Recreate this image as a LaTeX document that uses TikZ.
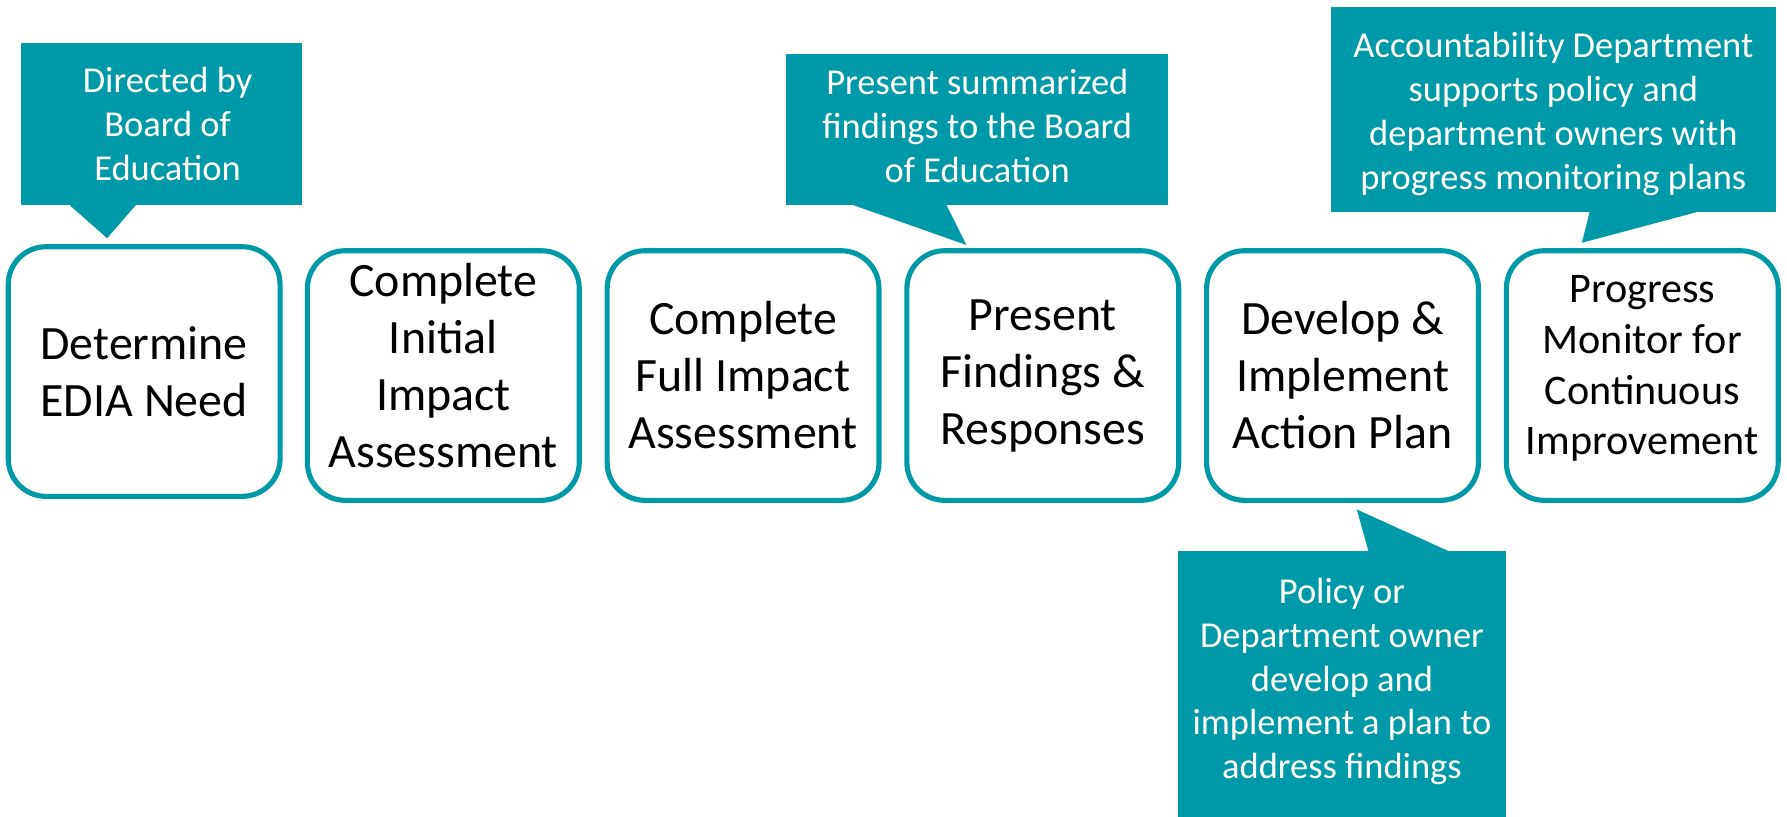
\documentclass[tikz,border=0pt]{standalone}
\usepackage{fontspec}
\setmainfont{Carlito}
\definecolor{teal}{RGB}{0,153,168}
\newcommand{\liftlines}[2]{\raisebox{#1}[\height][\depth]{\begin{tabular}{@{}c@{}}#2\end{tabular}}}
\tikzset{
  stepbox/.style={draw=teal, line width=4.5pt, fill=white, rounded corners=33pt,
    minimum width=238.5pt, minimum height=219pt, inner sep=0pt, align=center,
    font=\fontsize{42pt}{50pt}\selectfont},
  calloutbox/.style={fill=teal, inner sep=0pt},
  callouttext/.style={text=white, align=center, inner sep=0pt,
    font=\fontsize{32pt}{38.5pt}\selectfont},
}
\begin{document}
\begin{tikzpicture}[x=1pt,y=-1pt]
\useasboundingbox (0,0) rectangle (1568,716);
% steps
\node[stepbox] (b1) at (126.5,326) {Determine\\EDIA Need};
\node[stepbox] (b2) at (389,329.5) {\liftlines{4pt}{Complete\\Initial\\Impact\\Assessment}};
\node[stepbox] (b3) at (652,329.5) {Complete\\Full Impact\\Assessment};
\node[stepbox] (b4) at (915,329.5) {Present\\Findings \&\\Responses};
\node[stepbox] (b5) at (1178,329.5) {Develop \&\\Implement\\Action Plan};
\node[stepbox, font=\fontsize{37pt}{44.5pt}\selectfont] (b6) at (1441,329.5) {\liftlines{6pt}{Progress\\Monitor for\\Continuous\\Improvement}};
% callout 1
\node[calloutbox, minimum width=247pt, minimum height=142pt] (c1) at (141.5,109) {};
\coordinate (t1) at (94,209);
\fill[teal] (60,179) -- (t1) -- (120,179) -- cycle;
\node[callouttext] (c1t) at (147,109) {Directed by\\Board of\\Education};
% callout 4
\node[calloutbox, minimum width=335pt, minimum height=133pt] (c4) at (857.5,113.5) {};
\coordinate (t4) at (848,215);
\fill[teal] (746,179) -- (t4) -- (830,179) -- cycle;
\node[callouttext] (c4t) at (857.5,110.5) {Present summarized\\findings to the Board\\of Education};
% callout 6
\node[calloutbox, minimum width=390pt, minimum height=180pt] (c6) at (1363,96) {};
\coordinate (t6) at (1388,213);
\fill[teal] (1395,185) -- (t6) -- (1493,185) -- cycle;
\node[callouttext] (c6t) at (1363,100) {Accountability Department\\supports policy and\\department owners with\\progress monitoring plans};
% callout 5
\node[calloutbox, minimum width=287pt, minimum height=233pt] (c5) at (1177.5,600) {};
\coordinate (t5) at (1190.5,447);
\fill[teal] (1201,484.5) -- (t5) -- (1273,484.5) -- cycle;
\node[callouttext] (c5t) at (1177.5,598) {Policy or\\Department owner\\develop and\\implement a plan to\\address findings};
\end{tikzpicture}
\end{document}
